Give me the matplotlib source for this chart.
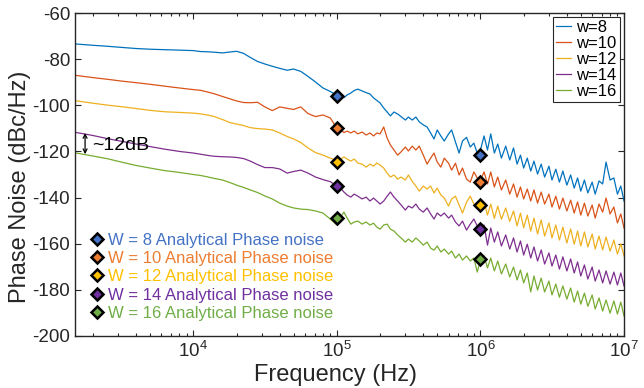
import matplotlib
matplotlib.use("Agg")
import matplotlib.pyplot as plt

plt.rcParams['font.family'] = ['Liberation Sans', 'DejaVu Sans']
plt.rcParams['axes.unicode_minus'] = False
plt.rcParams['mathtext.fontset'] = 'custom'
plt.rcParams['mathtext.rm'] = 'Liberation Sans'
plt.rcParams['mathtext.it'] = 'Liberation Sans:italic'
plt.rcParams['mathtext.bf'] = 'Liberation Sans:bold'

# frequency samples (Hz)
freq = ([m * 1e3 for m in [1.5, 2.0, 2.5, 3.15, 4.0, 5.0, 6.3, 8.0]]
        + [m * 1e4 for m in [1.0, 1.12, 1.25, 1.4, 1.6, 1.8, 2.0, 2.24, 2.5, 2.8,
                             3.15, 3.55, 4.0, 4.5, 5.0, 5.6, 6.3, 7.1, 8.0, 9.0]])
r40 = [1.0, 1.06, 1.12, 1.18, 1.25, 1.32, 1.4, 1.5, 1.6, 1.7, 1.8, 1.9, 2.0, 2.12,
       2.24, 2.36, 2.5, 2.65, 2.8, 3.0, 3.15, 3.35, 3.55, 3.75, 4.0, 4.25, 4.5, 4.75,
       5.0, 5.3, 5.6, 6.0, 6.3, 6.7, 7.1, 7.5, 8.0, 8.5, 9.0, 9.5]
freq += [m * 1e5 for m in r40] + [m * 1e6 for m in r40] + [1e7]

pn_w8 = [-73.4, -74.0, -74.4, -74.9, -75.4, -75.7, -75.9, -76.1,
         -76.3, -76.7, -76.8, -77.0, -77.3, -76.9, -76.6, -77.5, -79.3, -81.0,
         -82.1, -83.1, -84.0, -84.8, -84.3, -85.3, -87.5, -89.9, -92.5, -94.0,
         -95.7, -96.0, -96.7, -95.5, -94.7, -93.6, -93.0, -93.8, -94.5, -95.1, -96.8,
         -97.9, -99.0, -101.2, -102.9, -104.6, -102.9, -103.8, -104.9, -106.4, -105.1,
         -106.4, -105.1, -107.2, -108.5, -109.4, -112.0, -114.6, -110.7, -113.3, -115.5,
         -112.4, -110.7, -115.9, -120.7, -115.5, -113.9, -118.1, -116.4, -120.7, -119.4,
         -113.3, -119.4, -112.4, -120.7, -116.8, -122.9, -117.7, -123.7, -118.5, -125.5,
         -121.6, -127.2, -122.9, -128.5, -124.2, -129.8, -125.5, -131.1, -126.4, -132.4,
         -127.7, -133.3, -128.5, -134.6, -130.2, -135.9, -131.5, -137.2, -132.4, -138.0,
         -133.3, -138.5, -132.8, -134.1, -124.6, -132.4, -131.5, -138.5, -135.0, -141.5]
pn_w10 = [-87.0, -88.0, -88.7, -89.5, -90.2, -90.9, -91.7, -92.5,
          -93.2, -93.5, -94.2, -95.0, -96.2, -97.2, -98.1, -98.8, -98.9, -98.7,
          -100.7, -102.3, -100.7, -101.3, -101.8, -100.7, -103.6, -104.9, -104.2, -105.5,
          -110.0, -110.7, -111.8, -111.2, -112.0, -111.2, -112.4, -111.6, -112.9, -112.0, -113.3,
          -112.0, -112.4, -109.4, -114.2, -117.2, -119.4, -121.6, -120.2, -118.1, -119.8,
          -117.7, -119.4, -117.7, -121.6, -125.5, -122.9, -120.7, -124.6, -126.8, -122.9,
          -125.1, -128.1, -125.1, -130.2, -127.2, -132.0, -133.3, -128.9, -131.5, -132.4,
          -128.9, -134.1, -128.9, -135.4, -131.1, -136.7, -132.4, -138.5, -134.1, -139.8,
          -135.4, -140.6, -136.3, -141.5, -136.7, -142.4, -137.6, -142.8, -138.5, -144.1,
          -139.4, -145.0, -140.2, -145.8, -141.1, -146.7, -141.9, -147.6, -142.4, -148.0,
          -143.2, -148.9, -142.8, -146.3, -140.2, -147.1, -144.1, -151.0, -147.1, -153.2]
pn_w12 = [-98.0, -99.1, -99.9, -100.6, -101.4, -102.2, -102.8, -103.1,
          -103.4, -103.7, -104.2, -104.9, -106.2, -107.5, -108.1, -108.8, -109.7, -110.1,
          -110.3, -110.7, -112.0, -113.5, -114.6, -116.1, -118.5, -120.5, -121.6, -122.9,
          -124.0, -123.3, -122.4, -123.3, -124.2, -123.3, -125.0, -125.5, -126.8, -125.5, -126.4,
          -125.0, -125.9, -127.2, -129.4, -131.1, -130.2, -132.0, -131.1, -132.4, -130.2,
          -133.0, -135.0, -137.2, -135.0, -136.3, -135.0, -138.0, -135.9, -138.9, -140.2,
          -143.7, -140.6, -139.4, -143.2, -146.7, -142.0, -139.4, -142.8, -144.5, -143.2,
          -141.9, -147.6, -142.8, -149.0, -143.7, -149.4, -144.5, -150.3, -145.8, -152.3,
          -146.7, -153.1, -147.6, -154.5, -148.9, -155.8, -149.7, -156.7, -151.0, -157.5,
          -151.9, -158.4, -152.8, -159.7, -153.6, -160.2, -154.5, -161.0, -154.9, -161.4,
          -155.8, -162.3, -156.7, -162.7, -157.1, -163.2, -158.4, -164.5, -160.0, -165.3]
pn_w14 = [-111.7, -113.1, -114.4, -115.6, -116.8, -117.9, -119.0, -120.0,
          -120.7, -121.2, -121.7, -122.1, -122.3, -122.4, -122.6, -123.1, -124.2, -125.7,
          -127.0, -127.0, -127.6, -129.4, -128.7, -128.1, -129.4, -131.1, -132.2, -133.1,
          -135.0, -135.9, -137.6, -138.9, -139.8, -138.5, -139.4, -140.6, -139.8, -141.5, -140.2,
          -141.5, -142.8, -141.5, -139.4, -137.6, -139.8, -141.5, -143.2, -145.4, -143.7,
          -144.5, -142.8, -145.0, -146.3, -144.5, -147.1, -149.3, -146.7, -148.0, -146.7,
          -148.9, -147.6, -150.6, -152.3, -150.2, -154.1, -151.5, -149.3, -152.3, -153.6,
          -151.9, -160.6, -153.2, -159.3, -154.9, -161.0, -156.2, -162.3, -157.5, -163.6,
          -158.8, -164.9, -160.2, -166.2, -161.4, -167.5, -162.7, -168.8, -164.0, -169.7,
          -164.9, -171.0, -165.7, -171.8, -166.6, -172.7, -167.9, -174.0, -169.2, -175.3,
          -170.1, -176.2, -171.4, -177.0, -171.8, -177.5, -172.3, -177.9, -172.7, -178.3]
pn_w16 = [-120.6, -122.0, -123.1, -124.6, -126.1, -127.2, -128.3, -129.1,
          -130.0, -130.4, -131.0, -131.7, -132.4, -133.5, -134.6, -135.6, -136.7, -137.8,
          -139.3, -140.6, -142.4, -143.7, -144.5, -145.0, -145.2, -145.8, -146.7, -149.3,
          -151.9, -148.4, -146.3, -148.9, -151.5, -150.6, -150.2, -151.5, -150.6, -151.9, -151.1,
          -152.8, -153.7, -151.9, -151.5, -153.7, -154.5, -156.2, -157.5, -159.3, -158.0,
          -159.3, -157.5, -158.8, -160.6, -159.3, -161.9, -162.8, -161.0, -163.6, -162.3,
          -164.5, -163.2, -166.2, -164.5, -167.1, -165.3, -167.5, -166.2, -172.3, -167.1,
          -165.3, -170.5, -166.2, -171.8, -167.5, -173.1, -168.8, -174.4, -170.1, -175.7,
          -171.4, -177.0, -172.7, -180.9, -174.0, -180.1, -174.9, -180.9, -176.2, -182.2,
          -177.5, -183.2, -178.3, -184.0, -179.2, -185.3, -180.5, -186.2, -181.4, -187.1,
          -182.2, -188.3, -183.5, -189.2, -184.4, -190.1, -184.8, -190.5, -185.3, -191.3]

# analytical phase noise points
an_freq = [1e5, 1e6]
an_w8 = [-96.0, -121.6]
an_w10 = [-110.0, -133.2]
an_w12 = [-124.5, -143.2]
an_w14 = [-135.0, -153.8]
an_w16 = [-149.0, -166.8]

widths = [8, 10, 12, 14, 16]
sim_series = [pn_w8, pn_w10, pn_w12, pn_w14, pn_w16]
an_series = [an_w8, an_w10, an_w12, an_w14, an_w16]
line_colors = ['#0072BD', '#D95319', '#EDB120', '#7E2F8E', '#77AC30']
an_colors = ['#4472C4', '#ED7D31', '#FFC000', '#7030A0', '#70AD47']

fig = plt.figure(figsize=(6.44, 3.88), dpi=100)
ax = fig.add_axes([75 / 644, 52 / 388, 549 / 644, 323 / 388])

line_handles = []
for w, vals, c in zip(widths, sim_series, line_colors):
    h, = ax.plot(freq, vals, color=c, lw=0.9, label='w=%d' % w)
    line_handles.append(h)

an_handles = []
for w, vals, c in zip(widths, an_series, an_colors):
    h, = ax.plot(an_freq, vals, ls='none', marker='D', ms=6.5, mfc=c, mec='black',
                 mew=1.8, zorder=5, label='W = %d Analytical Phase noise' % w)
    an_handles.append(h)

ax.set_xscale('log')
ax.set_xlim(1500, 1e7)
ax.set_ylim(-200, -60)
ax.set_yticks(range(-200, -59, 20))

ax.tick_params(which='both', direction='in', top=True, right=True,
               colors='#262626', labelsize=13.5, width=0.8)
ax.tick_params(which='major', length=4, pad=3.5)
ax.tick_params(which='minor', length=2.5)
for s in ax.spines.values():
    s.set_color('#262626')
    s.set_linewidth(1.0)

ax.set_xlabel('Frequency (Hz)', fontsize=17, color='#262626')
ax.set_ylabel('Phase Noise (dBc/Hz)', fontsize=17, color='#262626')
ax.xaxis.set_label_coords(0.4745, -0.088)
ax.yaxis.set_label_coords(-0.08, 0.461)

# ~12dB annotation
ax.annotate('', xy=(1763, -112), xytext=(1763, -121.2),
            arrowprops=dict(arrowstyle='<->', color='black', lw=0.9,
                            shrinkA=0, shrinkB=0, mutation_scale=7))
ax.text(1960, -117.3, '~12dB', fontsize=14, va='center', ha='left', color='black')

leg1 = ax.legend(handles=line_handles, loc='upper right', bbox_to_anchor=(0.993, 0.988),
                 borderaxespad=0, fontsize=12, handlelength=0.9, handletextpad=0.3,
                 labelspacing=0.05, borderpad=0.2, fancybox=False, framealpha=1,
                 edgecolor='#262626')
leg1.get_frame().set_linewidth(0.8)
ax.add_artist(leg1)

ax.legend(handles=an_handles, loc='upper left', bbox_to_anchor=(0.025, 0.320),
          borderaxespad=0, borderpad=0, fontsize=12, handlelength=1.0,
          handletextpad=0.16, labelspacing=0.2, frameon=False,
          labelcolor='markerfacecolor')

fig.savefig('out.png', dpi=100)
